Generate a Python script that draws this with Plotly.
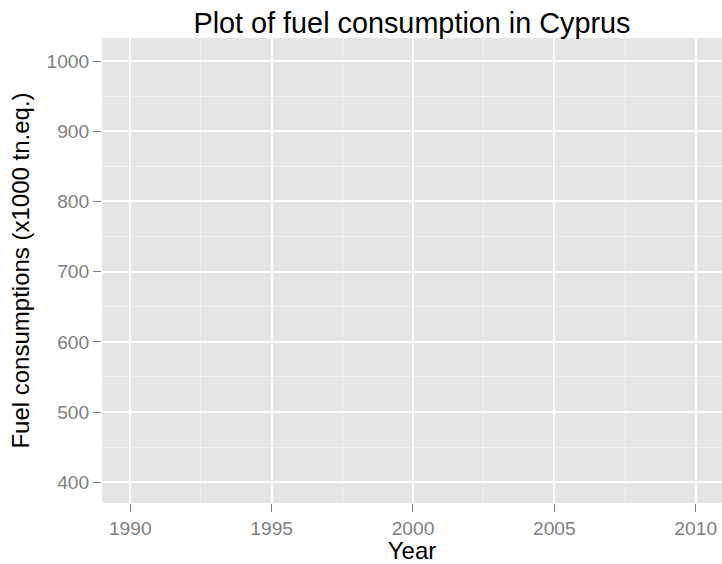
import plotly.graph_objects as go

# Data (the reference chart shows no plotted data)
years = []
consumption = []

x_ticks = [1990, 1995, 2000, 2005, 2010]
y_ticks = [400, 500, 600, 700, 800, 900, 1000]

fig = go.Figure()
fig.add_trace(go.Scatter(x=years, y=consumption, mode="lines", showlegend=False))

FONT = "Liberation Sans, Arial, Helvetica, sans-serif"
GREY50 = "#7F7F7F"

fig.update_layout(
    width=722, height=564,
    margin=dict(l=102, r=0, t=38, b=61),
    paper_bgcolor="white",
    plot_bgcolor="#E5E5E5",
    font=dict(family=FONT, color="black"),
    title=dict(text="Plot of fuel consumption in Cyprus", x=0.5706, xanchor="center",
               y=0.960, yanchor="middle", font=dict(size=28.8, color="black", family=FONT)),
    showlegend=False,
)

fig.update_xaxes(
    range=[1989, 2010.93], tickvals=x_ticks, ticktext=[str(v) for v in x_ticks],
    showgrid=True, gridcolor="white", gridwidth=1.8,
    zeroline=False, showline=False,
    ticks="outside", ticklen=8, tickwidth=1.4, tickcolor=GREY50,
    tickfont=dict(size=19.2, color=GREY50, family=FONT),
    minor=dict(tickvals=[1987.5, 1992.5, 1997.5, 2002.5, 2007.5], showgrid=True,
               gridcolor="#F2F2F2", gridwidth=1, ticks=""),
    title=dict(text="Year", font=dict(size=24, color="black", family=FONT), standoff=4),
)
fig.update_yaxes(
    range=[370.5, 1032.8], tickvals=y_ticks, ticktext=[str(v) for v in y_ticks],
    showgrid=True, gridcolor="white", gridwidth=1.8,
    zeroline=False, showline=False,
    ticks="outside", ticklen=8, tickwidth=1.4, tickcolor=GREY50,
    tickfont=dict(size=19.2, color=GREY50, family=FONT),
    minor=dict(tickvals=[450, 550, 650, 750, 850, 950], showgrid=True,
               gridcolor="#F2F2F2", gridwidth=1, ticks=""),
    title=dict(text="Fuel consumptions (x1000 tn.eq.)", font=dict(size=24, color="black", family=FONT), standoff=10),
)

fig.write_html("out.html", config={"displayModeBar": False},
               post_script="document.body.style.margin='0';document.body.style.overflow='hidden';")
